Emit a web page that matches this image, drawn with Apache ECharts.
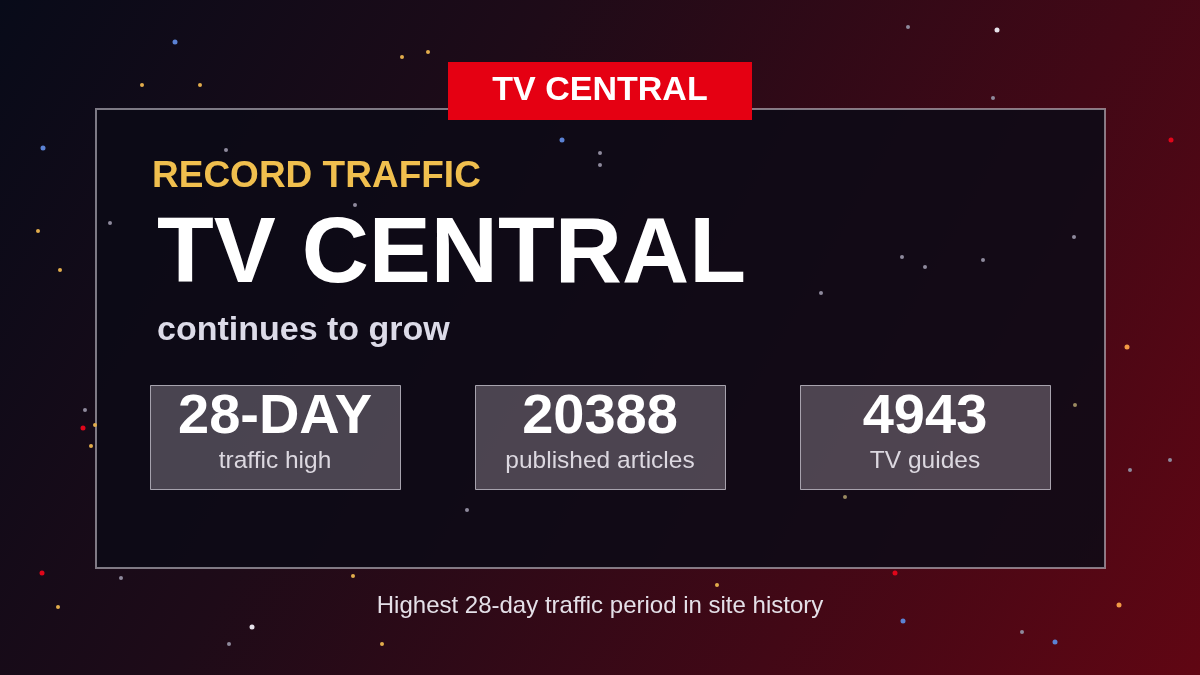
<!DOCTYPE html>
<html>
<head>
<meta charset="utf-8">
<script src="https://cdn.jsdelivr.net/npm/echarts@6/dist/echarts.min.js"></script>
<style>
html,body{margin:0;padding:0;background:#0b0d1a;}
#chart{width:1200px;height:675px;}
</style>
</head>
<body>
<div id="chart"></div>
<script>
// ---- content ----
const bannerText = 'TV CENTRAL';
const kicker = 'RECORD TRAFFIC';
const headline = 'TV CENTRAL';
const subline = 'continues to grow';
const statValues = ['28-DAY', '20388', '4943'];
const statLabels = ['traffic high', 'published articles', 'TV guides'];
const footnote = 'Highest 28-day traffic period in site history';

// decorative star field: [x, y, kind]
const stars = [
  [997,30,0],[908,27,4],[993,98,4],[1171,140,3],[1127,347,5],[821,293,4],[925,267,4],
  [902,257,4],[983,260,4],[1074,237,4],[142,85,1],[200,85,1],[175,42,2],[43,148,2],
  [38,231,1],[110,223,4],[226,150,4],[355,205,4],[428,52,1],[402,57,1],[562,140,2],
  [600,153,4],[85,410,4],[83,428,3],[95,425,1],[91,446,1],[42,573,3],[121,578,4],
  [58,607,1],[252,627,0],[229,644,4],[353,576,1],[382,644,1],[903,621,2],[1055,642,2],
  [1022,632,4],[1119,605,5],[895,573,3],[845,497,6],[1170,460,4],[1075,405,6],
  [717,585,1],[467,510,4],[1130,470,4],[60,270,1],[600,165,4]
];
const starKinds = [
  {color:'#e6e2ea', size:5, opacity:0.95},
  {color:'#e2ad4c', size:4, opacity:0.9},
  {color:'#5b82d4', size:5, opacity:0.95},
  {color:'#e0061a', size:5, opacity:0.95},
  {color:'#8e8a9c', size:4, opacity:0.55},
  {color:'#f29a45', size:5, opacity:0.95},
  {color:'#9a8a60', size:4, opacity:0.5}
];

const chart = echarts.init(document.getElementById('chart'), null, {renderer:'canvas'});
const FAM = 'Liberation Sans';

function txt(x, y, text, color, size, weight, align) {
  return { type:'text', z:31, x:x, y:y, style:{ text:text, fill:color,
    fontFamily:FAM, fontSize:size, fontWeight:weight, align:align, verticalAlign:'middle' } };
}

const boxX = [150, 475, 800];
const boxW = 250, boxY = 385, boxH = 104;

const graphics = [
  { type:'rect', z:-10, silent:true, shape:{x:0,y:0,width:1200,height:675},
    style:{ fill: new echarts.graphic.LinearGradient(0,0,1200,675,[
      {offset:0,color:'#080b19'},{offset:0.35,color:'#1e0b18'},
      {offset:0.72,color:'#420816'},{offset:1,color:'#600613'}], true) } },
  { type:'rect', z:20, shape:{x:96,y:109,width:1009,height:459},
    style:{ fill:'rgba(12,11,22,0.86)', stroke:'rgba(200,196,206,0.6)', lineWidth:2 } },
  { type:'rect', z:30, shape:{x:448,y:62,width:304,height:58},
    style:{ fill:'#e50012' } },
  txt(600, 91, bannerText, '#ffffff', 34, 'bold', 'center'),
  txt(152, 177, kicker, '#f0bf4e', 37, 'bold', 'left'),
  txt(157, 256, headline, '#ffffff', 93, 'bold', 'left'),
  txt(157, 331, subline, '#dcdbe8', 34, 'bold', 'left'),
  txt(600, 606, footnote, '#e4e0e8', 24, 'normal', 'center')
];

statValues.forEach((v, i) => {
  const cx = boxX[i] + boxW/2;
  graphics.push({ type:'rect', z:25, shape:{x:boxX[i]+0.5,y:boxY+0.5,width:boxW,height:boxH},
    style:{ fill:'rgba(255,245,255,0.25)', stroke:'rgba(220,216,226,0.7)', lineWidth:1 } });
  graphics.push(txt(cx, 418, v, '#ffffff', 56, 'bold', 'center'));
  graphics.push(txt(cx, 461, statLabels[i], '#dcd8e0', 24.5, 'normal', 'center'));
});

chart.setOption({
  animation:false,
  grid:{left:0,right:0,top:0,bottom:0},
  xAxis:{type:'value',min:0,max:1200,show:false},
  yAxis:{type:'value',min:0,max:675,inverse:true,show:false},
  graphic:{ elements: graphics },
  series:[{
    type:'scatter', z:22, silent:true,
    data: stars,
    symbolSize: d => starKinds[d[2]].size,
    itemStyle:{ color: p => starKinds[p.data[2]].color, opacity: p => starKinds[p.data[2]].opacity }
  }]
});
</script>
</body>
</html>
